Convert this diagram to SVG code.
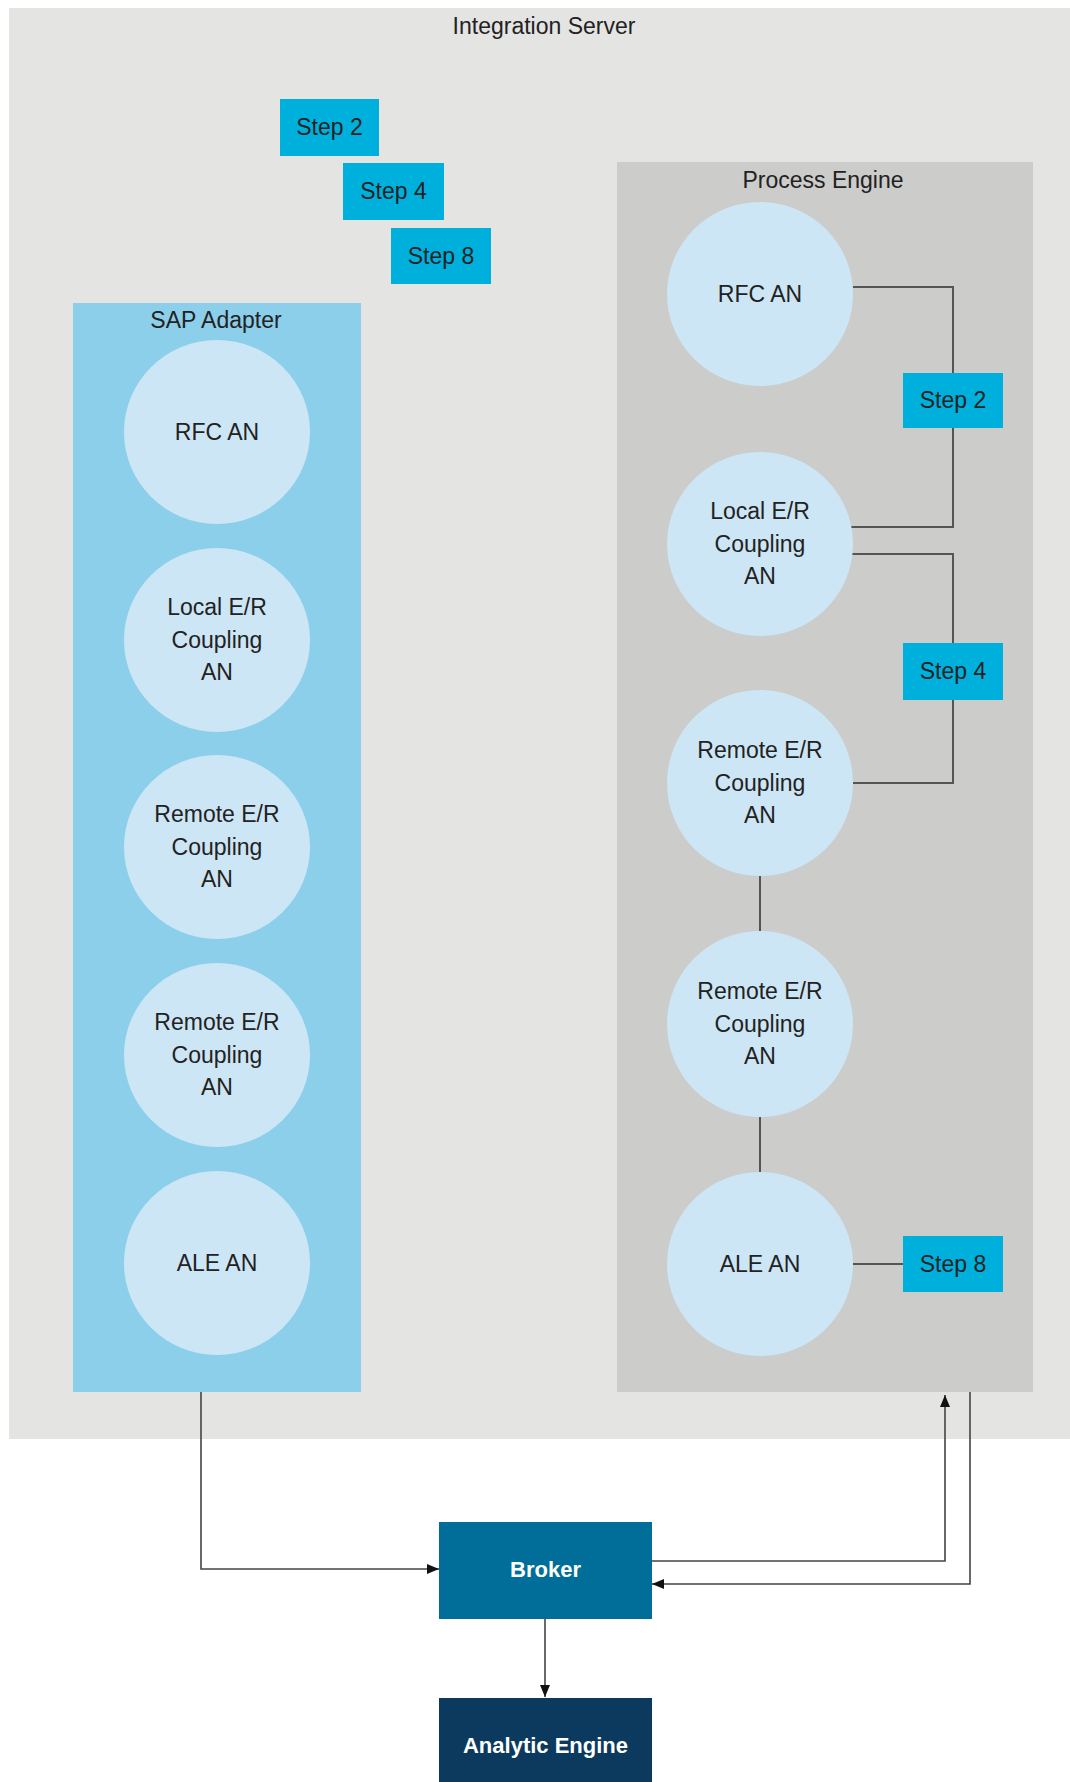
<svg xmlns="http://www.w3.org/2000/svg" width="1070" height="1782" viewBox="0 0 1070 1782">
<style>
text{font-family:"Liberation Sans",Arial,sans-serif;font-size:23px;fill:#222;text-anchor:middle}
.circ{fill:#cde6f5}
.step{fill:#00b0dc}
.ln{fill:none;stroke:#555;stroke-width:2}
.ar{fill:none;stroke:#444;stroke-width:1.6}
.wt{fill:#fff;font-weight:bold;font-size:22px}
</style>
<defs>
<marker id="arr" viewBox="0 0 12 10" refX="12" refY="5" markerWidth="12" markerHeight="10" markerUnits="userSpaceOnUse" orient="auto">
<path d="M0,0 L12,5 L0,10 z" fill="#111"/>
</marker>
</defs>
<rect width="1070" height="1782" fill="#fff"/>
<g id="integration-server">
<rect x="9" y="8" width="1061" height="1431" fill="#e4e4e3"/>
<text x="544" y="34">Integration Server</text>
</g>
<g id="legend-step2"><rect class="step" x="280" y="99" width="99" height="57"/><text x="329.5" y="135">Step 2</text></g>
<g id="legend-step4"><rect class="step" x="343" y="163" width="101" height="57"/><text x="393.5" y="199">Step 4</text></g>
<g id="legend-step8"><rect class="step" x="391" y="228" width="100" height="56"/><text x="441" y="264">Step 8</text></g>
<g id="sap-adapter">
<rect x="73" y="303" width="288" height="1089" fill="#8ccfeb"/>
<text x="216" y="328">SAP Adapter</text>
</g>
<g id="sap-rfc"><ellipse class="circ" cx="217" cy="432" rx="93" ry="92"/><text x="217" y="440">RFC AN</text></g>
<g id="sap-local"><ellipse class="circ" cx="217" cy="640" rx="93" ry="92"/><text x="217" y="615">Local E/R</text><text x="217" y="648">Coupling</text><text x="217" y="680">AN</text></g>
<g id="sap-remote1"><ellipse class="circ" cx="217" cy="847" rx="93" ry="92"/><text x="217" y="822">Remote E/R</text><text x="217" y="855">Coupling</text><text x="217" y="887">AN</text></g>
<g id="sap-remote2"><ellipse class="circ" cx="217" cy="1055" rx="93" ry="92"/><text x="217" y="1030">Remote E/R</text><text x="217" y="1063">Coupling</text><text x="217" y="1095">AN</text></g>
<g id="sap-ale"><ellipse class="circ" cx="217" cy="1263" rx="93" ry="92"/><text x="217" y="1271">ALE AN</text></g>
<g id="process-engine">
<rect x="617" y="162" width="416" height="1230" fill="#cccccb"/>
<text x="823" y="188">Process Engine</text>
</g>
<g id="connectors">
<path class="ln" d="M853,287 H953 V373"/>
<path class="ln" d="M953,428 V527 H851"/>
<path class="ln" d="M852,554 H953 V643"/>
<path class="ln" d="M953,700 V783 H853"/>
<path class="ln" d="M760,876 V932"/>
<path class="ln" d="M760,1116 V1172"/>
<path class="ln" d="M853,1264 H903"/>
<path class="ar" d="M201,1392 V1569 H439" marker-end="url(#arr)"/>
<path class="ar" d="M652,1561 H945 V1395" marker-end="url(#arr)"/>
<path class="ar" d="M970,1392 V1584 H652" marker-end="url(#arr)"/>
<path class="ar" d="M545,1619 V1697" marker-end="url(#arr)"/>
</g>
<g id="pe-rfc"><ellipse class="circ" cx="760" cy="294" rx="93" ry="92"/><text x="760" y="302">RFC AN</text></g>
<g id="pe-local"><ellipse class="circ" cx="760" cy="544" rx="93" ry="92"/><text x="760" y="519">Local E/R</text><text x="760" y="552">Coupling</text><text x="760" y="584">AN</text></g>
<g id="pe-remote1"><ellipse class="circ" cx="760" cy="783" rx="93" ry="93"/><text x="760" y="758">Remote E/R</text><text x="760" y="791">Coupling</text><text x="760" y="823">AN</text></g>
<g id="pe-remote2"><ellipse class="circ" cx="760" cy="1024" rx="93" ry="93"/><text x="760" y="999">Remote E/R</text><text x="760" y="1032">Coupling</text><text x="760" y="1064">AN</text></g>
<g id="pe-ale"><ellipse class="circ" cx="760" cy="1264" rx="93" ry="92"/><text x="760" y="1272">ALE AN</text></g>
<g id="pe-step2"><rect class="step" x="903" y="373" width="100" height="55"/><text x="953" y="408">Step 2</text></g>
<g id="pe-step4"><rect class="step" x="903" y="643" width="100" height="57"/><text x="953" y="679">Step 4</text></g>
<g id="pe-step8"><rect class="step" x="903" y="1236" width="100" height="56"/><text x="953" y="1272">Step 8</text></g>
<g id="broker"><rect x="439" y="1522" width="213" height="97" fill="#006e98"/><text class="wt" x="545.5" y="1577">Broker</text></g>
<g id="analytic-engine"><rect x="439" y="1698" width="213" height="84" fill="#0b3a5e"/><text class="wt" x="545.5" y="1753">Analytic Engine</text></g>
</svg>
